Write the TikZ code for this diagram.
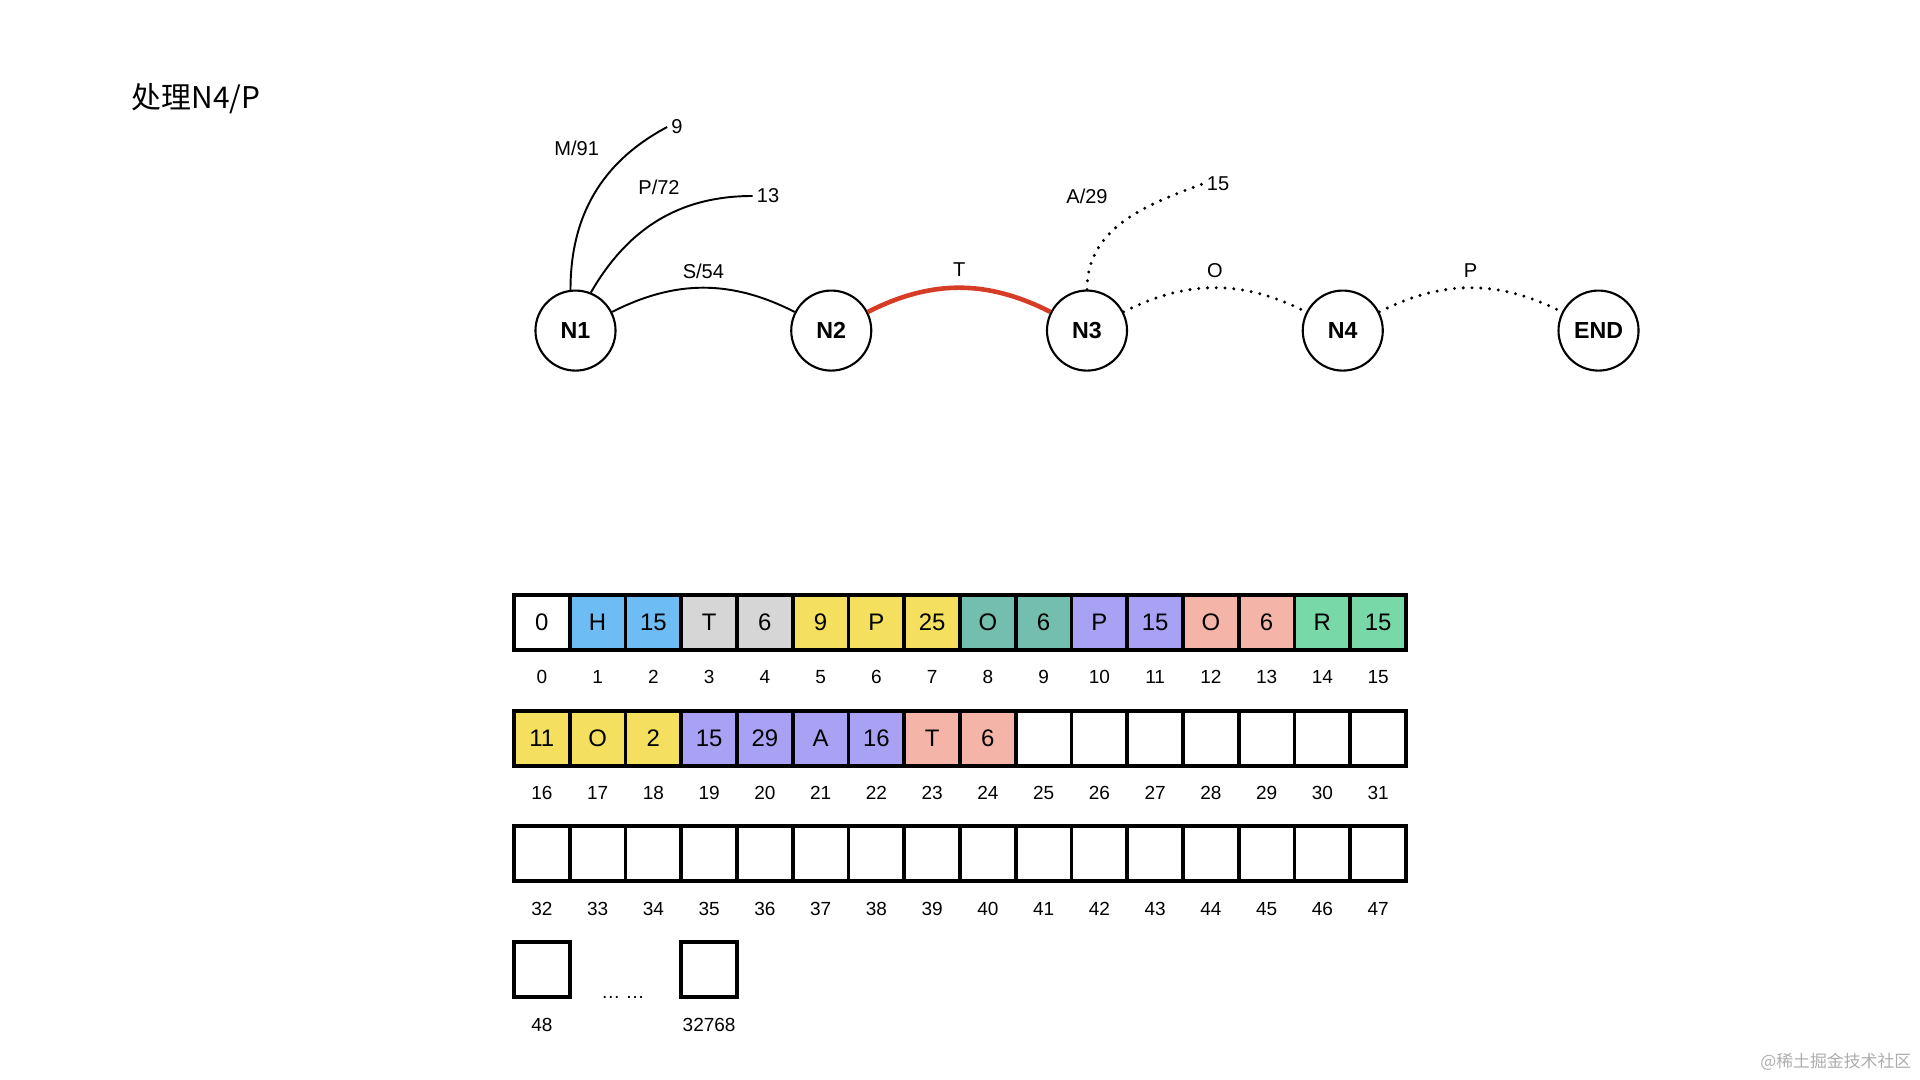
\documentclass[tikz,border=0pt]{standalone}
\usepackage{fontspec}
\setmainfont{Liberation Sans}
\newfontfamily\cjk{Noto Sans CJK SC}
\usepackage{xcolor}
\usetikzlibrary{positioning}

\definecolor{cellblue}{HTML}{6DBCF4}
\definecolor{cellgray}{HTML}{D6D6D6}
\definecolor{cellyellow}{HTML}{F4E05E}
\definecolor{cellteal}{HTML}{74BEAF}
\definecolor{celllav}{HTML}{A9A2F4}
\definecolor{cellsalmon}{HTML}{F4B4A7}
\definecolor{cellgreen}{HTML}{78D8A8}
\definecolor{pathred}{HTML}{D63C26}

\begin{document}
\begin{tikzpicture}[
    x=0.01cm, y=-0.01cm,
    node distance=1.735cm,
    state/.style={circle, draw, line width=0.6pt, minimum size=0.8cm, inner sep=0pt, font=\fontsize{6.6}{8}\selectfont\bfseries},
    lbl/.style={font=\fontsize{5.7}{7}\selectfont, inner sep=1pt},
    edge/.style={line width=0.55pt},
    hotedge/.style={line width=1.3pt, draw=pathred},
    openedge/.style={line width=0.95pt, dash pattern=on 0pt off 2.5pt, line cap=round},
    cell/.style={draw, line width=1.1pt, minimum width=0.5575cm, minimum height=0.55cm, inner sep=0pt, font=\fontsize{6.8}{8}\selectfont},
    idx/.style={font=\fontsize{5.4}{6}\selectfont}
]
    \useasboundingbox (0,0) rectangle (1920,1080);

    % title
    \node [anchor=west, inner sep=0pt, font=\cjk\fontsize{8.5}{10}\selectfont] (title) at (131,99) {处理N4/P};

    % trie nodes
    \node [state] (n1) at (575.5,330.6) {N1};
    \node [state, right=of n1] (n2) {N2};
    \node [state, right=of n2] (n3) {N3};
    \node [state, right=of n3] (n4) {N4};
    \node [state, right=of n4] (nend) {END};

    % free ends of the side branches
    \node [lbl] (e9) at (677,127) {9};
    \node [lbl] (e13) at (768,196) {13};
    \node [lbl] (e15) at (1218,184) {15};
    \node [lbl] (l91) at (576.7,148) {M/91};
    \node [lbl] (l72) at (659,187) {P/72};
    \node [lbl] (l29) at (1087,196) {A/29};

    \draw [edge] (n1.97) to[out=90, in=208] (e9.west);
    \draw [edge] (n1.68) to[out=60, in=180] (e13.west);
    \draw [openedge] (n3.90) to[out=90, in=200] (e15.west);

    \draw [edge] (n1) to[bend left=27] node[lbl, midway, above=0.05cm] {S/54} (n2);
    \draw [hotedge] (n2) to[bend left=27] node[lbl, midway, above=0.05cm, text=black] {T} (n3);
    \draw [openedge] (n3) to[bend left=27] node[lbl, midway, above=0.05cm] {O} (n4);
    \draw [openedge] (n4) to[bend left=27] node[lbl, midway, above=0.05cm] {P} (nend);

    % array rows
    \foreach \v/\c [count=\i from 0] in {0/white, H/cellblue, 15/cellblue, T/cellgray, 6/cellgray, 9/cellyellow, P/cellyellow, 25/cellyellow, O/cellteal, 6/cellteal, P/celllav, 15/celllav, O/cellsalmon, 6/cellsalmon, R/cellgreen, 15/cellgreen} {
        \node [cell, fill=\c] (a\i) at ({514+55.75*(\i+0.5)},622.5) {\v};
        \node [idx] (ia\i) at ({514+55.75*(\i+0.5)},677) {\i};
    }
    \foreach \v/\c [count=\i from 0] in {11/cellyellow, O/cellyellow, 2/cellyellow, 15/celllav, 29/celllav, A/celllav, 16/celllav, T/cellsalmon, 6/cellsalmon, /white, /white, /white, /white, /white, /white, /white} {
        \pgfmathtruncatemacro\k{16+\i}
        \node [cell, fill=\c] (b\i) at ({514+55.75*(\i+0.5)},738.2) {\v};
        \node [idx] (ib\i) at ({514+55.75*(\i+0.5)},793) {\k};
    }
    \foreach \i in {0,...,15} {
        \pgfmathtruncatemacro\k{32+\i}
        \node [cell] (c\i) at ({514+55.75*(\i+0.5)},853.9) {};
        \node [idx] (ic\i) at ({514+55.75*(\i+0.5)},908.6) {\k};
    }

    % last cells
    \node [cell] (d0) at (541.9,969.6) {};
    \node [idx] (id0) at (541.9,1024.5) {48};
    \node [cell] (d1) at (709.1,969.6) {};
    \node [idx] (id1) at (709.1,1024.5) {32768};
    \node [idx] (gap) at (623,997) {… …};

    % watermark
    \node [anchor=east, inner sep=0pt, text=black!32, font=\cjk\fontsize{4.8}{6}\selectfont] (mark) at (1912,1062) {@稀土掘金技术社区};
\end{tikzpicture}
\end{document}
